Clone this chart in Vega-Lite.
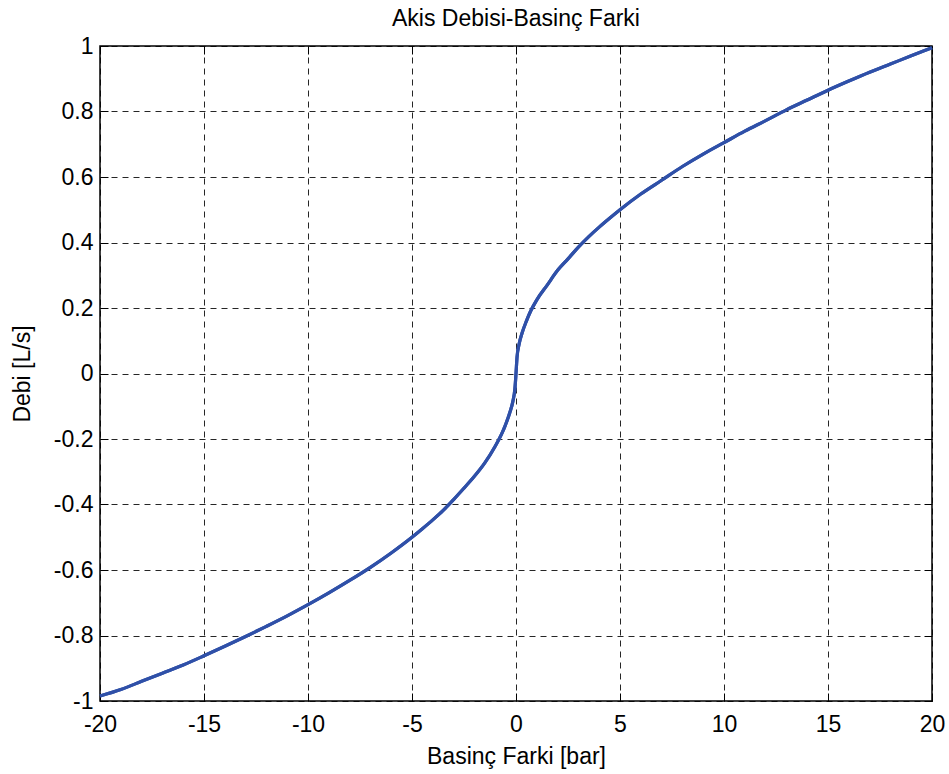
{
  "$schema": "https://vega.github.io/schema/vega-lite/v6.json",
  "autosize": {"type": "none"},
  "padding": {"left": 100, "top": 46, "right": 17, "bottom": 73},
  "width": 832,
  "height": 655,
  "background": "white",
  "title": {"text": "Akis Debisi-Basinç Farki", "font": "Liberation Sans", "fontSize": 23, "fontWeight": "normal", "color": "black", "offset": 4, "anchor": "middle", "frame": "group"},
  "config": {
    "view": {"stroke": "black", "strokeWidth": 1.5},
    "axis": {
      "labelFont": "Liberation Sans", "labelFontSize": 23, "labelColor": "black",
      "titleFont": "Liberation Sans", "titleFontSize": 23, "titleFontWeight": "normal", "titleColor": "black",
      "domain": false, "tickColor": "black", "tickSize": -8, "tickWidth": 1,
      "labelFlush": false, "labelOverlap": false,
      "gridColor": "black", "gridDash": [6, 5], "gridWidth": 1, "gridOpacity": 0.85
    }
  },
  "data": {"values": [
    {"dp": -20, "q": -0.985}, {"dp": -19, "q": -0.965}, {"dp": -18, "q": -0.94}, {"dp": -17, "q": -0.915},
    {"dp": -16, "q": -0.89}, {"dp": -15, "q": -0.862}, {"dp": -14, "q": -0.833}, {"dp": -13, "q": -0.803},
    {"dp": -12, "q": -0.772}, {"dp": -11, "q": -0.74}, {"dp": -10, "q": -0.706}, {"dp": -9, "q": -0.67},
    {"dp": -8, "q": -0.632}, {"dp": -7, "q": -0.592}, {"dp": -6, "q": -0.548}, {"dp": -5, "q": -0.5},
    {"dp": -4.5, "q": -0.474}, {"dp": -4, "q": -0.447}, {"dp": -3.5, "q": -0.418}, {"dp": -3, "q": -0.385},
    {"dp": -2.5, "q": -0.35}, {"dp": -2, "q": -0.314}, {"dp": -1.5, "q": -0.273}, {"dp": -1, "q": -0.222},
    {"dp": -0.7, "q": -0.186}, {"dp": -0.5, "q": -0.156}, {"dp": -0.3, "q": -0.12}, {"dp": -0.15, "q": -0.085},
    {"dp": -0.05, "q": -0.045}, {"dp": 0, "q": 0}, {"dp": 0.05, "q": 0.05}, {"dp": 0.15, "q": 0.09},
    {"dp": 0.3, "q": 0.125}, {"dp": 0.5, "q": 0.16}, {"dp": 0.7, "q": 0.19}, {"dp": 1, "q": 0.225},
    {"dp": 1.5, "q": 0.27}, {"dp": 2, "q": 0.315}, {"dp": 2.5, "q": 0.35}, {"dp": 3, "q": 0.386},
    {"dp": 3.5, "q": 0.418}, {"dp": 4, "q": 0.447}, {"dp": 4.5, "q": 0.474}, {"dp": 5, "q": 0.5},
    {"dp": 6, "q": 0.548}, {"dp": 7, "q": 0.59}, {"dp": 8, "q": 0.632}, {"dp": 9, "q": 0.67},
    {"dp": 10, "q": 0.705}, {"dp": 11, "q": 0.74}, {"dp": 12, "q": 0.772}, {"dp": 13, "q": 0.805},
    {"dp": 14, "q": 0.835}, {"dp": 15, "q": 0.865}, {"dp": 16, "q": 0.893}, {"dp": 17, "q": 0.92},
    {"dp": 18, "q": 0.945}, {"dp": 19, "q": 0.97}, {"dp": 20, "q": 0.995}
  ]},
  "layer": [
    {
      "mark": {"type": "line", "color": "#2F50A8", "strokeWidth": 3.2, "interpolate": "monotone"},
      "encoding": {
        "x": {"field": "dp", "type": "quantitative", "scale": {"domain": [-20, 20], "nice": false},
          "axis": {"values": [-20, -15, -10, -5, 0, 5, 10, 15, 20], "grid": true, "title": "Basinç Farki [bar]", "labelExpr": "toString(datum.value)", "labelPadding": 20, "titlePadding": 9}},
        "y": {"field": "q", "type": "quantitative", "scale": {"domain": [-1, 1], "nice": false, "zero": false},
          "axis": {"values": [-1, -0.8, -0.6, -0.4, -0.2, 0, 0.2, 0.4, 0.6, 0.8, 1], "grid": true, "title": "Debi [L/s]", "labelExpr": "toString(datum.value)", "labelPadding": 15, "titlePadding": 19}}
      }
    },
    {
      "mark": {"type": "line", "color": "#2F50A8", "strokeWidth": 3.2, "interpolate": "monotone"},
      "encoding": {
        "x": {"field": "dp", "type": "quantitative",
          "axis": {"orient": "top", "values": [-20, -15, -10, -5, 0, 5, 10, 15, 20], "grid": false, "labels": false, "title": null}},
        "y": {"field": "q", "type": "quantitative",
          "axis": {"orient": "right", "values": [-1, -0.8, -0.6, -0.4, -0.2, 0, 0.2, 0.4, 0.6, 0.8, 1], "grid": false, "labels": false, "title": null}}
      }
    }
  ],
  "resolve": {"axis": {"x": "independent", "y": "independent"}}
}
